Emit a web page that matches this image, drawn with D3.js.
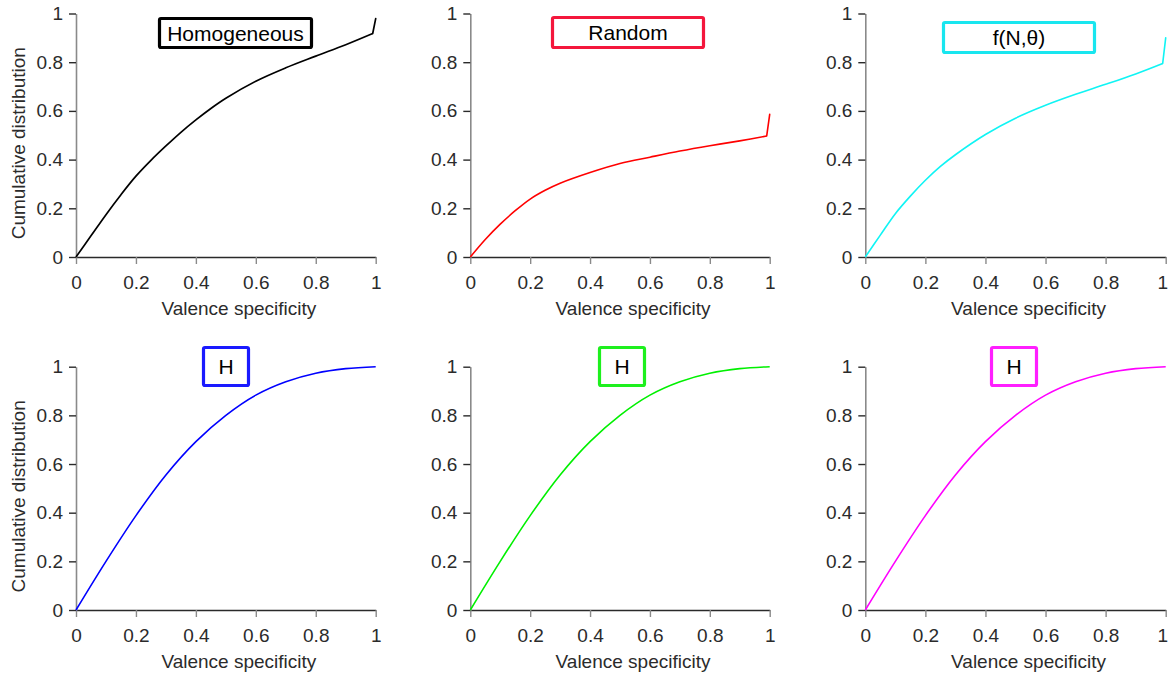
<!DOCTYPE html>
<html>
<head>
<meta charset="utf-8">
<script src="https://cdn.jsdelivr.net/npm/d3@7"></script>
<style>
  html, body { margin: 0; padding: 0; background: #fff; }
  svg { display: block; font-family: "Liberation Sans", Arial, Helvetica, sans-serif; }
</style>
</head>
<body>
<svg id="chart" width="1168" height="675"></svg>
<script>
// Tick values shared by every panel
const xTickValues = [0, 0.2, 0.4, 0.6, 0.8, 1];
const yTickValues = [0, 0.2, 0.4, 0.6, 0.8, 1];

// Cumulative distribution of valence specificity, [specificity, fraction]
const homogeneous = [
  [0, 0], [0.05, 0.087], [0.1, 0.174], [0.15, 0.256], [0.2, 0.332], [0.25, 0.397],
  [0.3, 0.456], [0.35, 0.512], [0.4, 0.563], [0.45, 0.61], [0.5, 0.652],
  [0.6, 0.722], [0.7, 0.777], [0.8, 0.825], [0.9, 0.872], [0.99, 0.918], [1, 0.979]
];
const random = [
  [0, 0], [0.05, 0.072], [0.1, 0.135], [0.15, 0.19], [0.2, 0.238], [0.25, 0.274],
  [0.3, 0.303], [0.4, 0.347], [0.5, 0.384], [0.6, 0.41], [0.7, 0.435],
  [0.8, 0.457], [0.9, 0.477], [0.99, 0.497], [1, 0.586]
];
const fNTheta = [
  [0, 0], [0.05, 0.09], [0.1, 0.178], [0.15, 0.25], [0.2, 0.315], [0.25, 0.372],
  [0.3, 0.42], [0.4, 0.503], [0.5, 0.57], [0.6, 0.623], [0.7, 0.668],
  [0.8, 0.709], [0.9, 0.752], [0.99, 0.795], [1, 0.9]
];
const hBlue = [
  [0, 0], [0.1, 0.2], [0.2, 0.388], [0.3, 0.555], [0.4, 0.692], [0.5, 0.8],
  [0.6, 0.883], [0.7, 0.938], [0.8, 0.973], [0.9, 0.992], [1, 1]
];
const hGreen = [
  [0, 0], [0.1, 0.2], [0.2, 0.388], [0.3, 0.555], [0.4, 0.692], [0.5, 0.8],
  [0.6, 0.883], [0.7, 0.938], [0.8, 0.973], [0.9, 0.992], [1, 1]
];
const hMagenta = [
  [0, 0], [0.1, 0.2], [0.2, 0.388], [0.3, 0.555], [0.4, 0.692], [0.5, 0.8],
  [0.6, 0.883], [0.7, 0.938], [0.8, 0.973], [0.9, 0.992], [1, 1]
];

const seriesLabels = ["Homogeneous", "Random", "f(N,\u03b8)", "H", "H", "H"];
const xTitle = "Valence specificity";
const yTitle = "Cumulative distribution";

// Panel layout: plot rectangle, line colour and legend box geometry.
// massAtOne marks series whose last step (a point mass at 1) is drawn straight.
const panels = [
  { data: homogeneous, label: seriesLabels[0], massAtOne: true,
    x0: 76, x1: 375.7, y0: 257, y1: 13.5,
    line: "#000000", box: "#000000", bx: 158, by: 17, bw: 155, bh: 32, lineW: 1.7 },
  { data: random, label: seriesLabels[1], massAtOne: true,
    x0: 470.3, x1: 769.7, y0: 257, y1: 13.5,
    line: "#ff0000", box: "#f4173c", bx: 551, by: 16, bw: 154, bh: 33, lineW: 1.6 },
  { data: fNTheta, label: seriesLabels[2], massAtOne: true,
    x0: 865.3, x1: 1165.7, y0: 257, y1: 13.5,
    line: "#10f4f4", box: "#18e6ef", bx: 942, by: 21, bw: 154, bh: 33, lineW: 1.6 },
  { data: hBlue, label: seriesLabels[3], massAtOne: false,
    x0: 76, x1: 375.7, y0: 610, y1: 366.7,
    line: "#0000ff", box: "#1a1aff", bx: 202, by: 346, bw: 48, bh: 41, lineW: 1.6 },
  { data: hGreen, label: seriesLabels[4], massAtOne: false,
    x0: 470.3, x1: 769.7, y0: 610, y1: 366.7,
    line: "#00f000", box: "#1ef01e", bx: 598, by: 346, bw: 48, bh: 41, lineW: 1.6 },
  { data: hMagenta, label: seriesLabels[5], massAtOne: false,
    x0: 865.3, x1: 1165.7, y0: 610, y1: 366.7,
    line: "#ff00ff", box: "#ff1fff", bx: 990, by: 346, bw: 48, bh: 41, lineW: 1.6 }
];

const svg = d3.select("#chart");
const width = +svg.attr("width");
const fmt = d3.format("~g");

panels.forEach((p, i) => {
  const x = d3.scaleLinear().domain([0, 1]).range([p.x0, p.x1]);
  const y = d3.scaleLinear().domain([0, 1]).range([p.y0, p.y1]);
  const g = svg.append("g");

  // x axis: dark baseline, grey ticks
  const xa = g.append("g")
    .attr("transform", `translate(0,${p.y0})`)
    .call(d3.axisBottom(x).tickValues(xTickValues).tickFormat(fmt)
      .tickSize(7).tickSizeOuter(0).tickPadding(12));
  xa.select(".domain").attr("stroke", "#2a2a2a").attr("stroke-width", 1.4);
  xa.selectAll(".tick line").attr("stroke", "#8a8a8a").attr("stroke-width", 1.4);
  xa.selectAll(".tick text").attr("fill", "#2b2b2b").style("font-size", "19px")
    .style("font-family", "'Liberation Sans', Arial, sans-serif");
  // keep the last label inside the page when the axis runs to its right edge
  if (p.x1 + 6 > width) {
    xa.selectAll(".tick text").filter(d => d === 1)
      .attr("text-anchor", "end")
      .attr("x", width - p.x1 - 0.5);
  }

  // y axis: grey spine, dark ticks
  const ya = g.append("g")
    .attr("transform", `translate(${p.x0},0)`)
    .call(d3.axisLeft(y).tickValues(yTickValues).tickFormat(fmt)
      .tickSize(7).tickSizeOuter(0).tickPadding(6));
  ya.select(".domain").attr("stroke", "#8a8a8a").attr("stroke-width", 1.6);
  ya.selectAll(".tick line").attr("stroke", "#2a2a2a").attr("stroke-width", 1.4);
  ya.selectAll(".tick text").attr("fill", "#2b2b2b").style("font-size", "19px")
    .style("font-family", "'Liberation Sans', Arial, sans-serif");

  // x axis title
  g.append("text")
    .attr("x", (p.x0 + p.x1) / 2 + 13)
    .attr("y", p.y0 + 58)
    .attr("text-anchor", "middle")
    .attr("fill", "#2b2b2b")
    .style("font-size", "19px")
    .text(xTitle);

  // y axis title on the left column only
  if (i % 3 === 0) {
    const cy = (p.y0 + p.y1) / 2 + 8;
    g.append("text")
      .attr("transform", `translate(25,${cy}) rotate(-90)`)
      .attr("text-anchor", "middle")
      .attr("fill", "#2b2b2b")
      .style("font-size", "19px")
      .text(yTitle);
  }

  // cumulative curve: smooth body, straight final step for a mass at 1
  const smooth = d3.line().x(d => x(d[0])).y(d => y(d[1])).curve(d3.curveCatmullRom.alpha(0.5));
  const straight = d3.line().x(d => x(d[0])).y(d => y(d[1]));
  const body = p.massAtOne ? p.data.slice(0, -1) : p.data;
  g.append("path")
    .datum(body)
    .attr("fill", "none")
    .attr("stroke", p.line)
    .attr("stroke-width", p.lineW)
    .attr("stroke-linejoin", "round")
    .attr("d", smooth);
  if (p.massAtOne) {
    g.append("path")
      .datum(p.data.slice(-2))
      .attr("fill", "none")
      .attr("stroke", p.line)
      .attr("stroke-width", p.lineW)
      .attr("stroke-linecap", "round")
      .attr("d", straight);
  }

  // legend box
  g.append("rect")
    .attr("x", p.bx + 1.5).attr("y", p.by + 1.5)
    .attr("width", p.bw - 3).attr("height", p.bh - 3)
    .attr("rx", 1.5)
    .attr("fill", "#fff")
    .attr("stroke", p.box)
    .attr("stroke-width", 3.2);
  g.append("text")
    .attr("x", p.bx + p.bw / 2)
    .attr("y", p.by + p.bh / 2)
    .attr("dy", "0.36em")
    .attr("text-anchor", "middle")
    .attr("fill", "#000")
    .style("font-size", "21px")
    .text(p.label);
});
</script>
</body>
</html>
